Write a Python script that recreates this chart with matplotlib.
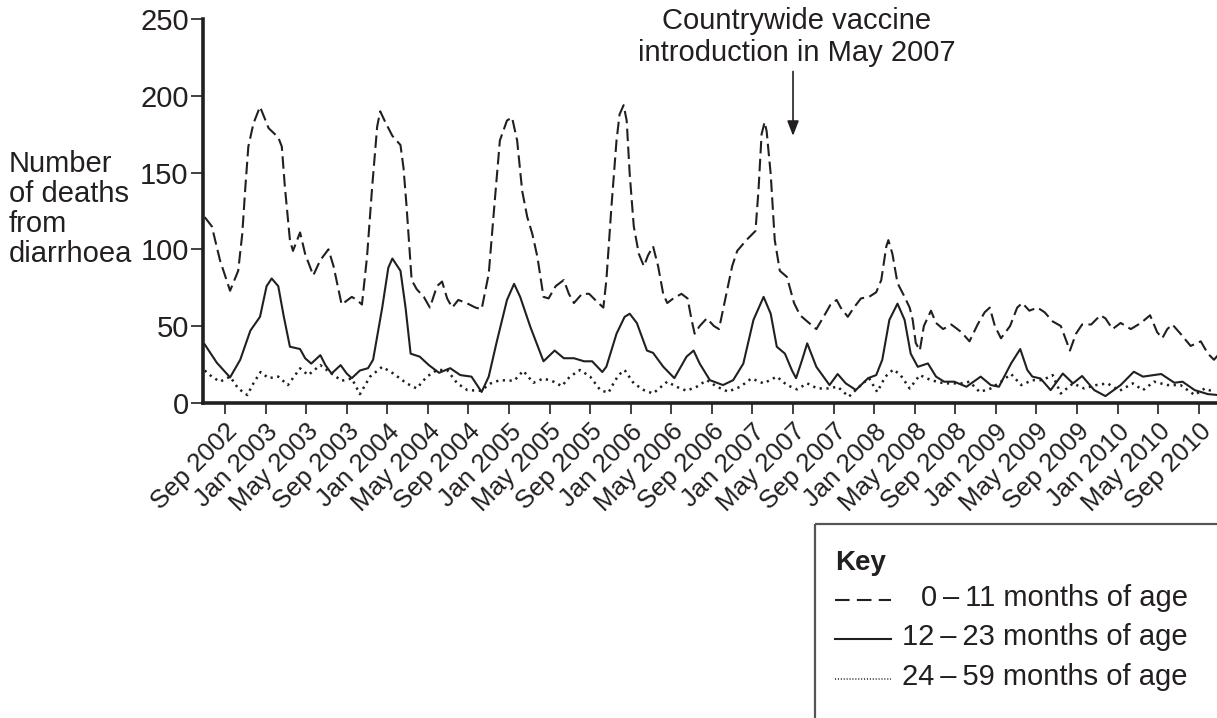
import matplotlib
matplotlib.use('Agg')
import matplotlib.pyplot as plt
from matplotlib.patches import Rectangle

plt.rcParams['font.family'] = ['Liberation Sans', 'DejaVu Sans']
INK = '#231f20'

# x is months since Jul 2002 (0 = Jul 2002)
tick_months = [2 + 4 * i for i in range(25)]
tick_labels = ['Sep 2002', 'Jan 2003', 'May 2003', 'Sep 2003', 'Jan 2004', 'May 2004',
               'Sep 2004', 'Jan 2005', 'May 2005', 'Sep 2005', 'Jan 2006', 'May 2006',
               'Sep 2006', 'Jan 2007', 'May 2007', 'Sep 2007', 'Jan 2008', 'May 2008',
               'Sep 2008', 'Jan 2009', 'May 2009', 'Sep 2009', 'Jan 2010', 'May 2010',
               'Sep 2010']
y_ticks = [0, 50, 100, 150, 200, 250]

# 0-11 months of age
age_0_11 = [(0, 121), (0.7, 115), (1.5, 93), (2.5, 73), (3.3, 86), (3.7, 110), (4.0, 140),
            (4.3, 167), (4.8, 182), (5.45, 193), (6.3, 179), (7.25, 173), (7.6, 167),
            (7.9, 141), (8.4, 106), (8.7, 99), (9.4, 111), (9.9, 97), (10.7, 83), (11.4, 93),
            (12.2, 100), (12.7, 89), (13.5, 64), (14.5, 69), (15, 67), (15.5, 64), (16, 95),
            (16.5, 140), (17, 180), (17.3, 190), (17.8, 183), (18.5, 174), (19.3, 168),
            (19.6, 153), (19.9, 128), (20.4, 80), (20.9, 74), (21.6, 69), (22.2, 62),
            (22.9, 76), (23.4, 79), (23.9, 68), (24.4, 62), (25, 67), (25.8, 65), (26.7, 62),
            (27.3, 61), (28, 84), (28.6, 132), (29.1, 171), (29.8, 184), (30.3, 186),
            (30.8, 171), (31.3, 138), (31.8, 121), (32.3, 110), (32.8, 95), (33.4, 69),
            (33.9, 68), (34.6, 76), (35.4, 80), (35.9, 71), (36.4, 65), (37.2, 71), (37.9, 71),
            (38.5, 67), (39.3, 62), (39.6, 80), (40.1, 128), (40.6, 171), (40.9, 188),
            (41.3, 194), (41.6, 184), (41.9, 149), (42.3, 115), (42.8, 97), (43.3, 89),
            (43.7, 96), (44.2, 102), (44.7, 89), (45.2, 71), (45.6, 65), (46.2, 68), (47, 71),
            (47.6, 68), (48, 54), (48.3, 45), (48.8, 50), (49.5, 55), (50.2, 50), (50.7, 48),
            (51.3, 67), (52, 89), (52.5, 99), (53.4, 106), (54.3, 112), (54.6, 139),
            (54.9, 175), (55.2, 183), (55.4, 177), (55.8, 149), (56.2, 106), (56.7, 86),
            (57.4, 82), (58.1, 65), (58.7, 57), (59.4, 53), (60.3, 48), (61.1, 57), (61.7, 64),
            (62.3, 67), (62.7, 62), (63.4, 56), (64, 62), (64.7, 68), (65.5, 69), (66.2, 72),
            (66.7, 80), (67.2, 102), (67.4, 106), (67.8, 97), (68.3, 78), (69, 69), (69.5, 62),
            (69.8, 54), (70.1, 39), (70.5, 34), (70.9, 50), (71.6, 60), (72.1, 52), (72.8, 48),
            (73.6, 51), (74.6, 46), (75.4, 40), (76.2, 51), (76.9, 59), (77.4, 62), (77.9, 50),
            (78.5, 42), (79.4, 50), (80.1, 62), (80.6, 65), (81.3, 60), (82.1, 62), (82.8, 59),
            (83.6, 53), (84.4, 50), (84.9, 41), (85.3, 34), (85.9, 45), (86.5, 51), (87.4, 51),
            (88.3, 57), (88.8, 55), (89.5, 48), (90.3, 52), (91.3, 48), (92.3, 52), (93.2, 57),
            (93.9, 46), (94.4, 42), (94.9, 48), (95.4, 51), (96.2, 45), (97.2, 37), (98.2, 40),
            (98.9, 32), (99.5, 28), (99.9, 31)]

# 12-23 months of age
age_12_23 = [(0, 38), (1.2, 26), (2.5, 16.5), (3.5, 28), (4.5, 47), (5.45, 56), (6.1, 76),
             (6.6, 81), (7.25, 76), (7.8, 56), (8.4, 36.5), (9.4, 35), (9.9, 29), (10.5, 25.5),
             (11.4, 31), (11.9, 24.5), (12.5, 19), (13.4, 24.5), (14, 19), (14.5, 16),
             (15.3, 21), (16.1, 22.5), (16.6, 28), (17.5, 62), (18.1, 88), (18.5, 94),
             (19.3, 86), (19.8, 62), (20.3, 32), (21.2, 30), (22.1, 24.5), (23.1, 19.5),
             (24.2, 22.5), (25.2, 18), (26.3, 17), (27.3, 7), (28, 17), (28.8, 40), (29.8, 67),
             (30.5, 77.5), (31.1, 69), (32.1, 49.5), (33.4, 27), (34.5, 34), (35.4, 29),
             (36.4, 29), (37.4, 27), (38.2, 27), (39.2, 20), (39.6, 23.5), (40.6, 45),
             (41.4, 56), (41.9, 58), (42.6, 52), (43.6, 34), (44.2, 32.5), (45.2, 23.5),
             (46.3, 16), (47.5, 30), (48.2, 34), (48.8, 25.5), (49.8, 14.7), (51.1, 11.5),
             (52.1, 14.7), (53.1, 25.5), (54.1, 54), (55.1, 69), (55.8, 58), (56.4, 36.5),
             (57.2, 32), (57.9, 21), (58.3, 16), (58.9, 28), (59.4, 38.7), (60.3, 23.4),
             (61.6, 11.5), (62.4, 18.7), (63.2, 12.6), (64.2, 8.3), (65.4, 16), (66.2, 18),
             (66.8, 28), (67.5, 54), (68.3, 64.6), (69, 54), (69.6, 32), (70.3, 23.4),
             (71.3, 25.6), (72.1, 17), (72.9, 13.7), (73.9, 13.7), (75.1, 10.4), (76.5, 17),
             (77.5, 11.5), (78.3, 10.4), (79.5, 25.6), (80.4, 35), (81.1, 21.3), (81.6, 17),
             (82.4, 15.8), (83.4, 8.2), (84.6, 19), (85.6, 12.6), (86.5, 17.4), (87.7, 8.2),
             (88.8, 4.3), (90.3, 11.5), (91.6, 20.2), (92.5, 17), (94.3, 18.7), (95.6, 13),
             (96.4, 13.7), (97.6, 8.2), (98.9, 5.6), (99.9, 5)]

# 24-59 months of age
age_24_59 = [(0, 21), (0.7, 17), (1.5, 13.7), (2.5, 17), (3.3, 9.3), (4.2, 5), (4.8, 12.6),
             (5.5, 20), (6.3, 16), (7.25, 17), (8.2, 11.5), (9.4, 22.4), (10.2, 18),
             (11.4, 24.5), (12.3, 20), (13.5, 14.3), (14.5, 15.8), (15.3, 5.6), (16.3, 17),
             (17.5, 23.4), (18.6, 19), (19.9, 12.6), (20.9, 9.3), (21.9, 17), (22.9, 21.3),
             (23.9, 21.3), (24.9, 12.6), (25.9, 8.2), (27.2, 7.8), (28.2, 12.6), (29.1, 14.7),
             (30.5, 14.3), (31.4, 20.8), (32.4, 13), (33.4, 15.8), (34.4, 13.7), (35.2, 10.8),
             (36, 17), (37, 21.3), (38, 17), (39, 8.2), (39.8, 6.5), (40.3, 12.6), (40.8, 18),
             (41.4, 21.3), (42.3, 12.6), (43.3, 8.2), (44.2, 6), (45.6, 13.7), (46.5, 10.4),
             (47.5, 7.8), (48.5, 10.4), (49.5, 14.7), (50.5, 10.4), (51.6, 7.2), (52.8, 10.4),
             (53.9, 15.8), (55.1, 12.6), (56.4, 17), (57.4, 11.5), (58.4, 8.7), (59.4, 12.6),
             (60.4, 9.3), (61.4, 9.3), (62.4, 10.4), (63.5, 3.9), (64.7, 11.5), (65.5, 16),
             (66.3, 7), (67.1, 17), (67.9, 21.7), (68.6, 18), (69.5, 9.3), (70.5, 18),
             (71.6, 14.7), (72.9, 12.6), (74.6, 12.6), (75.4, 13.7), (76.4, 7), (77.5, 9.3),
             (78.5, 13.7), (79.5, 18.7), (80.5, 11.5), (81.6, 14.7), (82.6, 14.7), (83.6, 18),
             (84.4, 6), (85.6, 12.6), (86.7, 9.3), (87.9, 11.5), (89, 12.6), (90.2, 7.8),
             (91.5, 12.6), (92.5, 8.2), (93.6, 13.7), (94.9, 11.5), (96.2, 11.5), (97.6, 5),
             (98.6, 9.3), (99.5, 7)]

vaccine_month = 58  # May 2007

styles = [
    (age_0_11, dict(linestyle=(0, (6, 2.6)), linewidth=1.5), '0\u2009\u2013\u200911 months of age'),
    (age_12_23, dict(linestyle='-', linewidth=1.5), '12\u2009\u2013\u200923 months of age'),
    (age_24_59, dict(linestyle=(0, (0.9, 1.8)), linewidth=1.8), '24\u2009\u2013\u200959 months of age'),
]

W, H = 1217, 718
fig = plt.figure(figsize=(W / 100, H / 100), dpi=100)
ax = fig.add_axes([203.3 / W, 315.3 / H, 1 - 203.3 / W, 383.4 / H])

for series, st, lab in styles:
    m, v = zip(*series)
    ax.plot(m, v, color=INK, solid_joinstyle='round', dash_capstyle='butt', **st)

ax.set_xlim(-0.14, 99.8)
ax.set_ylim(0, 250)
ax.set_yticks(y_ticks)
ax.set_xticks(tick_months)
ax.set_xticklabels(tick_labels, rotation=45, ha='right', va='top', rotation_mode='anchor')
ax.tick_params(axis='y', direction='out', length=9, width=1.2, pad=1.5, labelsize=21, colors=INK)
ax.tick_params(axis='x', direction='out', length=8, width=1.2, pad=4, labelsize=18.5, colors=INK)
for s in ['top', 'right']:
    ax.spines[s].set_visible(False)
for s in ['left', 'bottom']:
    ax.spines[s].set_linewidth(2.6)
    ax.spines[s].set_color(INK)

fig.text(9 / W, 1 - 209 / H, 'Number\nof deaths\nfrom\ndiarrhoea', ha='left', va='center',
         fontsize=21, color=INK, linespacing=1.08)

# vaccine introduction marker
ax.annotate('', xy=(vaccine_month, 174), xytext=(vaccine_month, 216),
            arrowprops=dict(arrowstyle='-|>,head_length=0.9,head_width=0.35', color=INK,
                            lw=1.2, shrinkA=0, shrinkB=0),
            annotation_clip=False)
ax.text(vaccine_month + 0.35, 238.5, 'Countrywide vaccine\nintroduction in May 2007', ha='center',
        va='center', fontsize=21, color=INK, linespacing=1.15, clip_on=False)

# key box
kax = fig.add_axes([0, 0, 1, 1], facecolor='none')
kax.set_xlim(0, W)
kax.set_ylim(H, 0)
kax.axis('off')
kax.add_patch(Rectangle((815, 524), 420, 220, fill=False, edgecolor='#555555', linewidth=1.6,
                        clip_on=False))
kax.text(835, 563, 'Key', fontsize=20, fontweight='bold', color=INK, ha='left', va='center')
key_rows = [598, 637, 677]
for (series, st, lab), yk in zip(styles, key_rows):
    kst = dict(st)
    if lab.startswith('0'):
        kst['linestyle'] = (0, (7, 3.5))
    if lab.startswith('24'):
        kst['linestyle'] = (0, (0.7, 1.2))
        kst['linewidth'] = 1.1
    kax.plot([835, 891], [yk + 2, yk + 2], color=INK, **kst)
    kax.text(1188, yk, lab, fontsize=21, color=INK, ha='right', va='center')

fig.savefig('out.png', dpi=100)
